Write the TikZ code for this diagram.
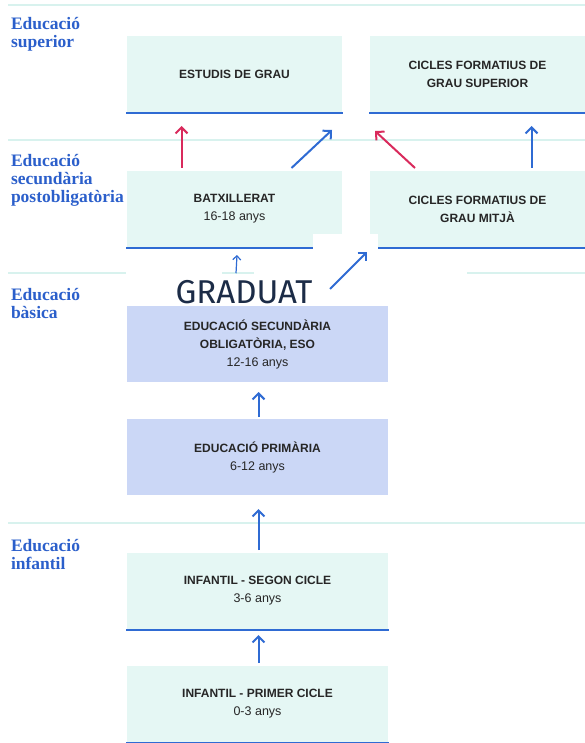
\documentclass[tikz,border=0pt]{standalone}
\usepackage{fontspec}
\setmainfont{Liberation Sans}
\newfontfamily\levelfont{Liberation Serif}
\newfontfamily\gradfont{Fira Sans}
\usetikzlibrary{positioning,arrows.meta,calc}
\usepackage{xcolor}
\definecolor{boxteal}{HTML}{E5F7F4}
\definecolor{boxlav}{HTML}{CBD7F6}
\definecolor{lineblue}{HTML}{2F6BD3}
\definecolor{arrowred}{HTML}{D92A5C}
\definecolor{sepline}{HTML}{D8F2EE}
\definecolor{levelblue}{HTML}{2B5FCB}
\definecolor{gradnavy}{HTML}{1C2C47}

\begin{document}
\begin{tikzpicture}[x=1pt, y=-1pt, line width=2pt,
    box/.style={rectangle, fill=boxteal, anchor=north west, inner sep=0pt,
        minimum height=76pt, align=center, text=black!85,
        font=\fontsize{12}{18}\selectfont},
    narrow/.style={box, minimum width=215pt},
    wide/.style={box, minimum width=261pt},
    level/.style={anchor=north west, align=left, inner sep=0pt, text=levelblue,
        font=\levelfont\bfseries\fontsize{17.5}{18}\selectfont},
    sep/.style={draw=sepline, line width=2pt},
    blue arrow/.style={draw=lineblue, -{Straight Barb[length=6pt,width=12pt]}},
    red arrow/.style={draw=arrowred, -{Straight Barb[length=6pt,width=12pt]}}]
    \useasboundingbox[fill=white] (0,0) rectangle (585,743);
    % separators
    \draw[sep] (8,5) -- (585,5);
    \draw[sep] (8,140) -- (585,140);
    \draw[sep] (8,273) -- (126,273);
    \draw[sep] (222,273) -- (254,273);
    \draw[sep] (467,273) -- (585,273);
    \draw[sep] (8,523) -- (585,523);
    % levels
    \node[level] (sup-label) at (10,16) {Educació\\superior};
    \node[level] (post-label) at (10,153) {Educació\\secundària\\postobligatòria};
    \node[level] (bas-label) at (10,287) {Educació\\bàsica};
    \node[level] (inf-label) at (10,538) {Educació\\infantil};
    % boxes
    \node[narrow] (grau) at (126,35) {\textbf{ESTUDIS DE GRAU}};
    \node[narrow] (cfgs) at (369,35) {\textbf{CICLES FORMATIUS DE}\\\textbf{GRAU SUPERIOR}};
    \node[narrow] (batx) at (126,170) {\textbf{BATXILLERAT}\\{\fontsize{12.5}{18}\selectfont 16-18 anys}};
    \node[narrow] (cfgm) at (369,170) {\textbf{CICLES FORMATIUS DE}\\\textbf{GRAU MITJÀ}};
    \node[wide, fill=boxlav] (eso) at (126,305) {\textbf{EDUCACIÓ SECUNDÀRIA}\\\textbf{OBLIGATÒRIA, ESO}\\{\fontsize{12.5}{18}\selectfont 12-16 anys}};
    \node[wide, fill=boxlav] (prim) at (126,418) {\textbf{EDUCACIÓ PRIMÀRIA}\\{\fontsize{12.5}{18}\selectfont 6-12 anys}};
    \node[wide] (inf2) at (126,552) {\textbf{INFANTIL - SEGON CICLE}\\{\fontsize{12.5}{18}\selectfont 3-6 anys}};
    \node[wide] (inf1) at (126,665) {\textbf{INFANTIL - PRIMER CICLE}\\{\fontsize{12.5}{18}\selectfont 0-3 anys}};
    % bottom rules
    \foreach \b in {grau, cfgs, batx, cfgm, inf2, inf1}
        \draw[lineblue, line width=2.4pt] (\b.south west) -- (\b.south east);
    % graduat
    \node[fill=white, anchor=north west, minimum width=65pt, minimum height=57pt] (patch) at (312,233) {};
    \node[inner sep=0pt, text=gradnavy, font=\gradfont\fontsize{33}{33}\selectfont] (grad) at (244,292) {GRADUAT};
    % arrows
    \draw[red arrow, shorten <=2pt, shorten >=13pt] ([xshift=-53]batx.north) -- ([xshift=-53]grau.south);
    \draw[blue arrow] ([shift={(57,-2)}]batx.north) -- ([shift={(-11,17)}]grau.south east);
    \draw[red arrow] ([shift={(46,-2)}]cfgm.north west) -- ([shift={(6,18)}]cfgs.south west);
    \draw[blue arrow, shorten <=2pt, shorten >=13pt] ([xshift=54]cfgm.north) -- ([xshift=54]cfgs.south);
    \draw[blue arrow, line width=1.2pt, -{Straight Barb[length=4pt,width=8pt]}] ([xshift=-8,yshift=6]grad.north) -- ([xshift=2.5,yshift=-7]batx.south);
    \draw[blue arrow] ([shift={(18,-3)}]patch.south west) -- ([shift={(-2,4)}]cfgm.south west);
    \draw[blue arrow, shorten <=1pt, shorten >=9pt] ([xshift=1]prim.north) -- ([xshift=1]eso.south);
    \draw[blue arrow, shorten <=2pt, shorten >=13pt] ([xshift=1]inf2.north) -- ([xshift=1]prim.south);
    \draw[blue arrow, shorten <=2pt, shorten >=5pt] ([xshift=1]inf1.north) -- ([xshift=1]inf2.south);
\end{tikzpicture}
\end{document}
